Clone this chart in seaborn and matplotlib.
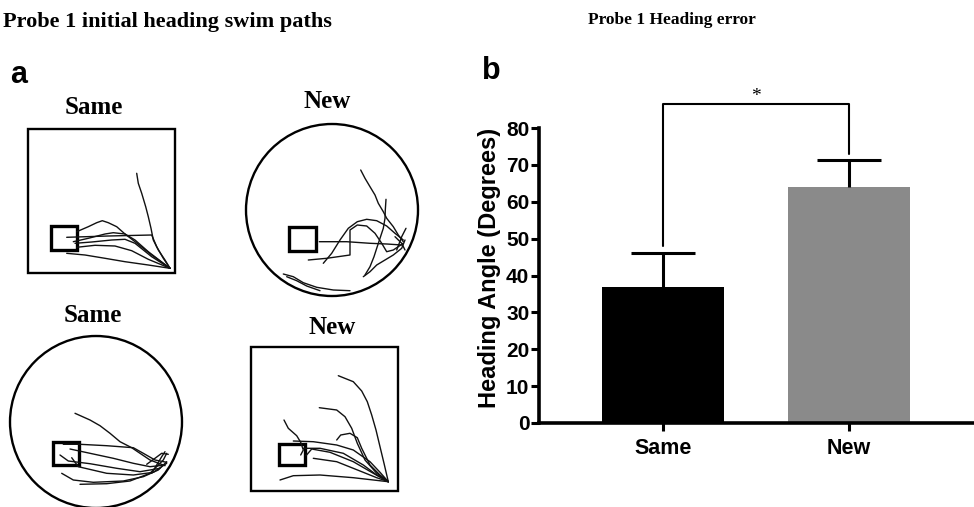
import numpy as np
import pandas as pd
import matplotlib
matplotlib.use("Agg")
import matplotlib.pyplot as plt
from matplotlib.patches import Rectangle, Circle
import seaborn as sns

# ---------------- data: bar chart (panel b) ----------------
groups = ["Same", "New"]
heading_mean = [37.0, 64.0]
heading_sem = [9.0, 7.2]
bar_colors = ["#000000", "#8a8a8a"]
y_ticks = [0, 10, 20, 30, 40, 50, 60, 70, 80]
sig_label = "*"
sig_height = 86.5
sig_leg_ends = [48.0, 73.0]

# ---------------- data: swim path sketches (panel a), image pixel coords ----------------
panel_titles = ["Same", "New", "Same", "New"]
title_xy = [(94, 107), (327, 102), (93, 315), (332, 327)]
square_arenas = [(28, 129, 175, 273), (251, 347, 398, 491)]
circle_arenas = [(332, 210, 86), (96, 422, 86)]
platforms = [(50.7, 226, 77.3, 250), (289.3, 227.3, 316, 251.3),
             (52.7, 442.3, 79, 465), (279, 444, 305, 465)]

paths_same_square = [
    [(136.7,173.3),(138.3,183.3),(141.7,193.3),(145.7,206.7),(148.3,216.7),(151,228.3),(153.3,240),(158.3,250),(165,260),(170,268.3)],
    [(76.7,231.7),(88.3,226.7),(96.7,222.7),(102.3,220.7),(108.3,222.7),(116.7,226.7),(125,234),(135,241.7),(151.7,255),(170,268.3)],
    [(66.7,237.3),(108.3,236),(151.7,235),(156.7,246.7),(163.3,258.3),(170,268.3)],
    [(73.3,241.7),(88.3,238.3),(105,234),(113.3,232.7),(125,234),(135,240),(148.3,251.7),(170,268.3)],
    [(75,243.3),(91.7,242),(111.7,240),(125,239.3),(135,243.3),(151.7,256.7),(170,268.3)],
    [(76.7,247.3),(95,245.3),(115,246),(131.7,250.7),(148.3,259.3),(170,268.3)],
    [(66.7,253.3),(85,255),(105,258.3),(125,261.7),(148.3,265),(170,268.3)],
]
paths_new_circle = [
    [(360.7,170),(365,178.3),(370,186.7),(375,195),(378.3,203.3),(383.3,211.7),(386.7,218.3),(393.3,226.7),(398.3,235),(403.3,241.7)],
    [(386,199.3),(385.3,210),(385,218.3),(383.3,228.3),(380,238.3),(376.7,248.3),(374,256.7),(370,266.7),(365,275)],
    [(319.3,241.7),(346.7,241.7),(370,243.3),(386.7,244),(401.7,245)],
    [(308.3,260),(326.7,258.3),(350,255),(350,243.3),(350,230),(357.3,225),(366.7,226),(375,233.3),(381.7,243.3),(386.7,251.7),(393.3,250),(403.3,243.3)],
    [(323.3,263.3),(331.7,253.3),(340,240),(348.3,228.3),(357.3,221.7),(366.7,219.3),(376.7,220.7),(386.7,226),(395,233.3),(403.3,240)],
    [(363.3,276.7),(370,271.7),(376.7,265),(385,260),(393.3,255),(401.7,248.3),(405,240)],
    [(283.3,274),(293.3,276.7),(303.3,282.7),(316.7,287.3),(333.3,290),(350,290.7)],
    [(286.7,276.7),(296.7,280.7),(306.7,286),(320,290.7)],
    [(396.7,250),(401.7,236.7),(406,228.3)],
    [(395,236.7),(401.7,243.3),(405,250)],
]
paths_same_circle = [
    [(75,413.3),(90,420),(100,425.7),(110,433.3),(120,441.7),(131.7,447.7),(140,453.3),(150,460),(165,465.7)],
    [(63.3,444.3),(80,444.3),(106.7,445.7),(133.3,447.7),(143.3,453.3),(155,460),(166.7,462.3)],
    [(70,449),(90,453.3),(113.3,458.3),(133.3,463.3),(150,466.7),(165,465)],
    [(60,455),(68.3,461),(90,463.7),(116.7,468.3),(140,471.7),(160,468.3)],
    [(71.7,457.7),(78.3,466.7),(106.7,473.3),(133.3,475),(153.3,472.3),(166.7,463.3)],
    [(61.7,473.3),(73.3,480),(93.3,482.3),(123.3,481),(143.3,476.7),(158.3,470),(166.7,461.7)],
    [(80,484.3),(106.7,483.7),(130,481),(150,473.3),(163.3,460),(166.7,453.3)],
    [(146.7,464.3),(155,458.3),(161.7,453.3),(168.3,454.3)],
    [(151.7,473.3),(156.7,465),(161.7,456.7),(165,451.7)],
]
paths_new_square = [
    [(338.3,375.7),(353.3,381.7),(361.7,391),(367.3,401.7),(371.7,415),(376,430),(380,446.7),(384,463.3),(388.3,481.7)],
    [(319.3,407.7),(336.7,410),(345,416.7),(351.7,428.3),(357.3,443.3),(365,460),(376.7,473.3),(388.3,481.7)],
    [(336.7,440),(340.7,435),(350,433.3),(357.3,437.7),(361.7,448.3),(370,465),(380,475),(388.3,481.7)],
    [(284,420),(288.3,428.3),(296.7,435.7),(300.7,442.3),(303.3,450),(300.7,455)],
    [(293.3,441),(313.3,441.7),(336.7,445),(353.3,450),(370,461.7),(380,472.3),(388.3,481.7)],
    [(303.3,448.3),(320,448.3),(343.3,453.3),(363.3,465),(376.7,475),(388.3,481.7)],
    [(306,455.7),(311.7,449),(330,452.3),(353.3,461.7),(373.3,473.3),(388.3,481.7)],
    [(313.3,458.3),(336.7,461.7),(360,471),(376.7,477.7),(388.3,481.7)],
    [(280,480),(293.3,475.7),(320,475),(353.3,477.7),(388.3,481.7)],
]

# ---------------- figure ----------------
sns.set_theme(style="white")
plt.rcParams["text.color"] = "black"
plt.rcParams["axes.labelcolor"] = "black"
plt.rcParams["xtick.color"] = "black"
plt.rcParams["ytick.color"] = "black"

W, H = 974, 507
fig = plt.figure(figsize=(W / 100, H / 100), dpi=100)
fig.patch.set_facecolor("white")

serif = ["Liberation Serif", "DejaVu Serif"]
sans = ["Liberation Sans", "DejaVu Sans"]

# overlay for panel a and texts, in pixel coordinates
ax0 = fig.add_axes([0, 0, 1, 1])
ax0.set_xlim(0, W)
ax0.set_ylim(H, 0)
ax0.axis("off")

for (x0, y0, x1, y1) in square_arenas:
    ax0.add_patch(Rectangle((x0, y0), x1 - x0, y1 - y0, fill=False, lw=1.7, ec="black"))
for (cx, cy, r) in circle_arenas:
    ax0.add_patch(Circle((cx, cy), r, fill=False, lw=1.7, ec="black"))
for (x0, y0, x1, y1) in platforms:
    ax0.add_patch(Rectangle((x0, y0), x1 - x0, y1 - y0, fill=False, lw=2.4, ec="black"))

for group in [paths_same_square, paths_new_circle, paths_same_circle, paths_new_square]:
    for p in group:
        arr = np.array(p)
        ax0.plot(arr[:, 0], arr[:, 1], color="#111111", lw=1.0, solid_capstyle="round")

for t, (x, y) in zip(panel_titles, title_xy):
    ax0.text(x, y, t, ha="center", va="center", fontsize=18, fontweight="bold",
             family=serif, color="black")

ax0.text(3, 22, "Probe 1 initial heading swim paths", ha="left", va="center",
         fontsize=16, fontweight="bold", family=serif, color="black")
ax0.text(672, 20, "Probe 1 Heading error", ha="center", va="center",
         fontsize=12.5, fontweight="bold", family=serif, color="black")
ax0.text(10, 75, "a", ha="left", va="center", fontsize=22, fontweight="bold",
         family=sans, color="black")
ax0.text(482, 71, "b", ha="left", va="center", fontsize=22, fontweight="bold",
         family=sans, color="black")

# ---------------- panel b: bar chart ----------------
left_px, bottom_px, top_px = 539, 423, 128
ax = fig.add_axes([left_px / W, 1 - bottom_px / H, 1 - left_px / W, (bottom_px - top_px) / H])
ax.patch.set_alpha(0)

df = pd.DataFrame({"group": groups, "angle": heading_mean})
sns.barplot(data=df, x="group", y="angle", hue="group", palette=bar_colors,
            width=0.66, legend=False, ax=ax, saturation=1)
for patch in ax.patches:
    patch.set_edgecolor("none")

xs = np.arange(len(groups))
tops = np.array(heading_mean) + np.array(heading_sem)
ax.vlines(xs, heading_mean, tops, color="black", lw=2.2, zorder=1)
ax.hlines(tops, xs - 0.17, xs + 0.17, color="black", lw=2.2, zorder=3)

# significance bracket
ax.plot([xs[0], xs[0], xs[1], xs[1]],
        [sig_leg_ends[0], sig_height, sig_height, sig_leg_ends[1]],
        color="black", lw=1.5, clip_on=False)
ax.text((xs[0] + xs[1]) / 2, sig_height - 0.3, sig_label, ha="center", va="bottom",
        fontsize=14, family=serif, color="black")

ax.set_xlim(-0.667, 1.672)
ax.set_ylim(0, 80)
ax.set_yticks(y_ticks)
ax.set_yticklabels([str(v) for v in y_ticks])
sns.despine(ax=ax, top=True, right=True)
ax.spines["left"].set_linewidth(2.6)
ax.spines["bottom"].set_linewidth(2.6)
ax.spines["left"].set_color("black")
ax.spines["bottom"].set_color("black")
ax.tick_params(axis="y", direction="out", length=6, width=2.2, pad=1, left=True,
               labelsize=15, colors="black")
ax.tick_params(axis="x", direction="out", length=6, width=2.2, pad=5, bottom=True,
               labelsize=15.5, colors="black")
for lab in ax.get_yticklabels() + ax.get_xticklabels():
    lab.set_fontweight("bold")
    lab.set_family(sans)
ax.set_xlabel("")
ax.set_ylabel("Heading Angle (Degrees)", fontsize=17, fontweight="bold", family=sans,
              color="black")
ax.yaxis.set_label_coords(-0.088, 0.525)

fig.savefig("out.png", dpi=100, facecolor="white")
